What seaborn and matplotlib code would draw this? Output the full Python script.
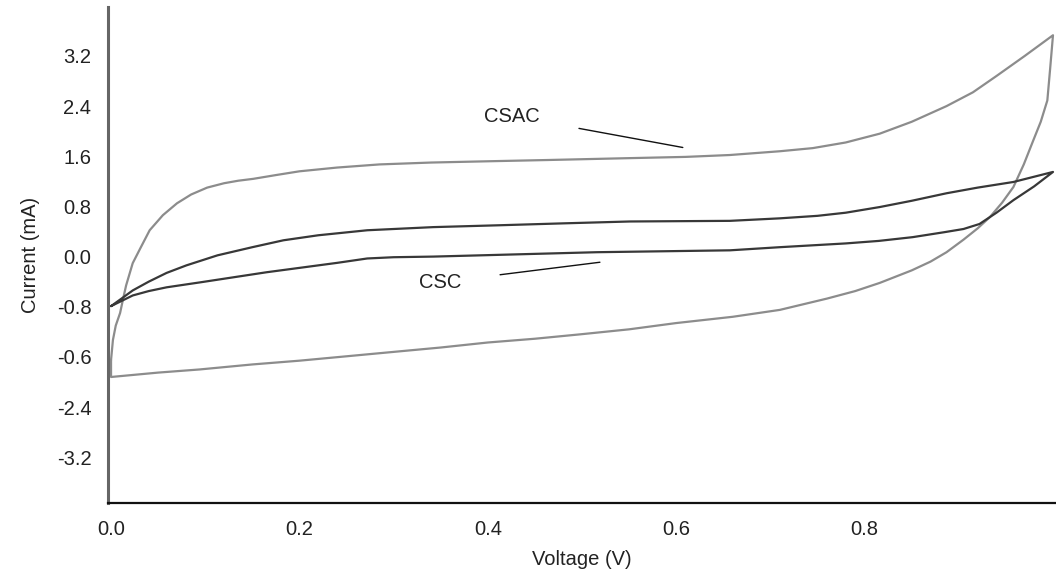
import pandas as pd
import matplotlib
matplotlib.use('Agg')
import matplotlib.pyplot as plt
import seaborn as sns

# CSAC loop: forward scan then reverse scan (V, mA)
csac_v = [0.0, 0.002, 0.005, 0.0096, 0.013, 0.016, 0.023, 0.031, 0.041, 0.055,
          0.070, 0.085, 0.102, 0.12, 0.135, 0.151, 0.175, 0.20, 0.24, 0.285,
          0.34, 0.40, 0.463, 0.55, 0.61, 0.657, 0.71, 0.745, 0.78, 0.816,
          0.85, 0.887, 0.915, 0.94, 0.97, 1.0,
          0.997, 0.994, 0.987, 0.979, 0.969, 0.958, 0.946, 0.933, 0.92, 0.905,
          0.887, 0.87, 0.85, 0.816, 0.79, 0.76, 0.71, 0.66,
          0.6, 0.55, 0.498, 0.45, 0.4, 0.35, 0.307, 0.25, 0.2, 0.15,
          0.094, 0.05, 0.0, 0.0]
csac_i = [-1.65, -1.33, -1.10, -0.90, -0.66, -0.46, -0.105, 0.13, 0.42, 0.66,
          0.85, 0.99, 1.10, 1.17, 1.21, 1.24, 1.30, 1.36, 1.42, 1.47,
          1.50, 1.52, 1.54, 1.57, 1.59, 1.62, 1.68, 1.73, 1.82, 1.96,
          2.15, 2.40, 2.62, 2.88, 3.20, 3.53,
          3.00, 2.49, 2.15, 1.85, 1.47, 1.11, 0.86, 0.63, 0.45, 0.27,
          0.07, -0.08, -0.22, -0.42, -0.55, -0.67, -0.85, -0.96,
          -1.06, -1.16, -1.24, -1.31, -1.37, -1.45, -1.51, -1.59, -1.66, -1.72,
          -1.80, -1.85, -1.92, -1.65]

# CSC loop
csc_v = [0.0, 0.012, 0.023, 0.04, 0.059, 0.08, 0.113, 0.15, 0.183, 0.22,
         0.272, 0.342, 0.413, 0.48, 0.551, 0.657, 0.71, 0.75, 0.78, 0.816,
         0.85, 0.887, 0.92, 0.958, 1.0,
         0.98, 0.958, 0.94, 0.922, 0.905, 0.885, 0.851, 0.815, 0.78, 0.71,
         0.657, 0.516, 0.392, 0.342, 0.3, 0.272, 0.24, 0.2, 0.165, 0.13,
         0.095, 0.059, 0.04, 0.023, 0.0]
csc_i = [-0.79, -0.66, -0.54, -0.40, -0.26, -0.14, 0.02, 0.15, 0.26, 0.34,
         0.42, 0.47, 0.50, 0.53, 0.56, 0.57, 0.61, 0.65, 0.70, 0.79,
         0.89, 1.01, 1.10, 1.19, 1.35,
         1.12, 0.90, 0.70, 0.52, 0.44, 0.39, 0.31, 0.25, 0.21, 0.15,
         0.10, 0.07, 0.02, 0.0, -0.01, -0.03, -0.10, -0.18, -0.25, -0.33,
         -0.41, -0.49, -0.55, -0.62, -0.79]

y_ticks = [-3.2, -2.4, -1.6, -0.8, 0.0, 0.8, 1.6, 2.4, 3.2]
y_tick_labels = ['-3.2', '-2.4', '-0.6', '-0.8', '0.0', '0.8', '1.6', '2.4', '3.2']
x_ticks = [0.0, 0.2, 0.4, 0.6, 0.8, 1.0]
x_tick_labels = ['0.0', '0.2', '0.4', '0.6', '0.8', '']

df = pd.concat([
    pd.DataFrame({'voltage': csac_v, 'current': csac_i, 'sample': 'CSAC'}),
    pd.DataFrame({'voltage': csc_v, 'current': csc_i, 'sample': 'CSC'}),
], ignore_index=True)

sns.set_theme(style="white")
plt.rcParams['font.family'] = ['Liberation Sans', 'DejaVu Sans']

fig = plt.figure(figsize=(10.56, 5.76), dpi=100)
ax = fig.add_axes([0.1023, 0.1267, 0.8977, 0.8611])

sns.lineplot(data=df, x='voltage', y='current', hue='sample', sort=False,
             estimator=None, palette={'CSAC': '#8c8c8c', 'CSC': '#383838'},
             linewidth=1.6, legend=False, ax=ax)

ax.set_xlim(-0.0032, 1.0032)
ax.set_ylim(-3.93, 3.98)
ax.set_xticks(x_ticks)
ax.set_xticklabels(x_tick_labels)
ax.set_yticks(y_ticks)
ax.set_yticklabels(y_tick_labels)
ax.tick_params(axis='both', direction='in', length=4, width=1, color='#999999',
               labelsize=14.5, labelcolor='#222222')
ax.tick_params(axis='x', pad=12)
ax.tick_params(axis='y', pad=12)

for side in ['top', 'right']:
    ax.spines[side].set_visible(False)
ax.spines['left'].set_color('#666666')
ax.spines['left'].set_linewidth(2.2)
ax.spines['bottom'].set_color('#111111')
ax.spines['bottom'].set_linewidth(1.6)

ax.set_xlabel('Voltage (V)', fontsize=14.5, color='#222222', labelpad=8)
ax.set_ylabel('Current (mA)', fontsize=14.5, color='#222222', labelpad=12)

ax.annotate('CSAC', xy=(0.607, 1.74), xytext=(0.426, 2.24), fontsize=14.5,
            color='#222222', ha='center', va='center',
            arrowprops=dict(arrowstyle='-', color='#111111', lw=1,
                            shrinkA=26, shrinkB=0))
ax.annotate('CSC', xy=(0.519, -0.09), xytext=(0.349, -0.41), fontsize=14.5,
            color='#222222', ha='center', va='center',
            arrowprops=dict(arrowstyle='-', color='#111111', lw=1,
                            shrinkA=26, shrinkB=0))

plt.savefig('out.png', dpi=100)
plt.close(fig)
